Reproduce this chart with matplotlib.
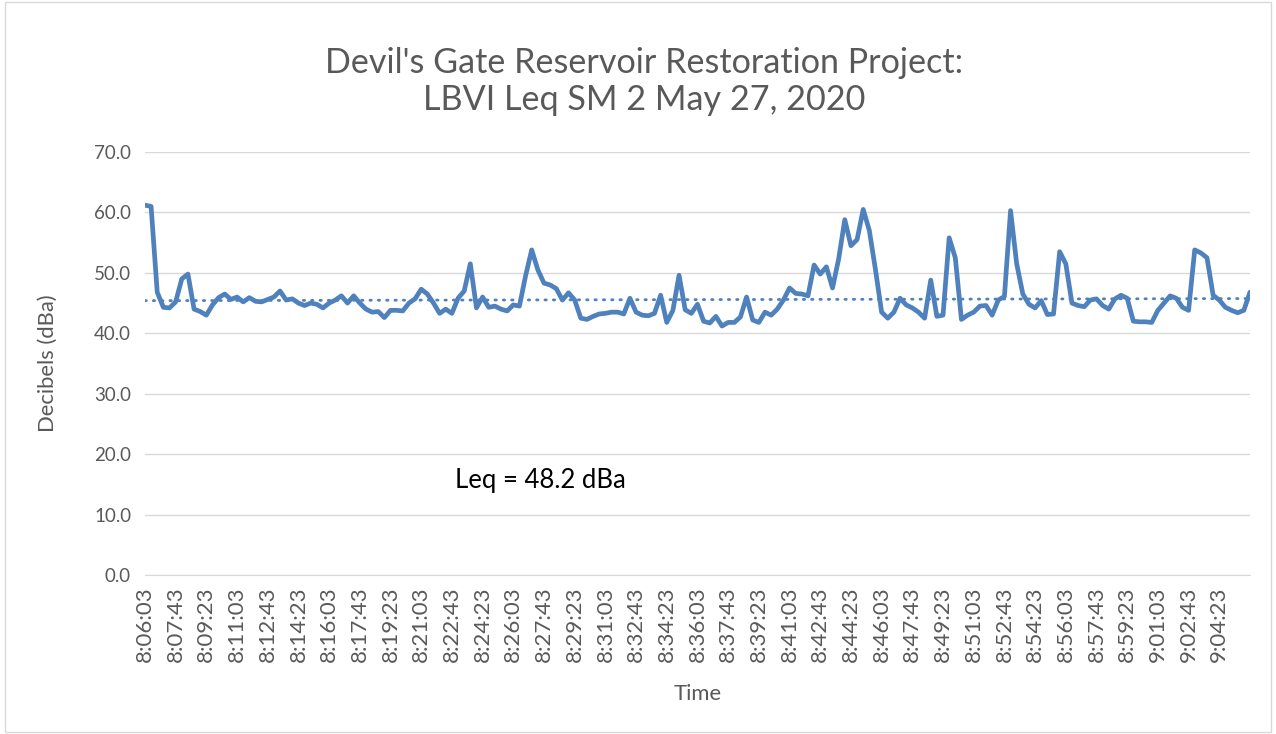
import matplotlib
matplotlib.use("Agg")
import matplotlib.pyplot as plt
import numpy as np
from datetime import datetime, timedelta

# Leq readings every 20 s, 8:06:03 -> 9:06:03
leq_db = [
    61.2, 61.0, 46.8, 44.3, 44.2, 45.2, 49.0, 49.8, 44.0, 43.6,
    43.0, 44.7, 45.9, 46.5, 45.6, 46.0, 45.2, 45.9, 45.3, 45.2,
    45.6, 46.0, 47.0, 45.5, 45.7, 45.0, 44.6, 45.0, 44.8, 44.2,
    45.0, 45.5, 46.2, 45.0, 46.2, 45.0, 44.0, 43.5, 43.6, 42.6,
    43.8, 43.8, 43.7, 45.0, 45.7, 47.3, 46.5, 45.0, 43.3, 44.0,
    43.3, 45.8, 47.0, 51.5, 44.2, 46.0, 44.3, 44.5, 44.0, 43.7,
    44.7, 44.5, 49.5, 53.8, 50.5, 48.3, 48.0, 47.4, 45.5, 46.7,
    45.5, 42.5, 42.3, 42.8, 43.2, 43.3, 43.5, 43.5, 43.2, 45.8,
    43.5, 43.0, 42.9, 43.3, 46.3, 41.8, 43.8, 49.6, 43.9, 43.3,
    44.8, 42.0, 41.7, 42.8, 41.2, 41.8, 41.8, 42.7, 46.0, 42.2,
    41.8, 43.5, 43.0, 44.0, 45.5, 47.5, 46.6, 46.5, 46.2, 51.3,
    49.8, 51.0, 47.5, 52.3, 58.8, 54.5, 55.5, 60.5, 57.0, 50.5,
    43.5, 42.5, 43.5, 45.8, 44.7, 44.2, 43.5, 42.5, 48.8, 42.8,
    43.0, 55.8, 52.5, 42.3, 43.0, 43.5, 44.5, 44.6, 43.0, 45.5,
    46.1, 60.3, 51.5, 46.5, 44.8, 44.2, 45.4, 43.1, 43.2, 53.5,
    51.5, 45.0, 44.6, 44.4, 45.5, 45.7, 44.6, 44.0, 45.7, 46.3,
    45.8, 42.0, 41.9, 41.9, 41.8, 43.8, 45.0, 46.2, 45.8, 44.3,
    43.8, 53.8, 53.3, 52.5, 46.3, 45.5, 44.3, 43.8, 43.4, 43.8,
    46.8,
]
start_time = datetime(2020, 5, 27, 8, 6, 3)
step_s = 20
label_every = 5
trend_ends = [45.4, 45.75]
leq_total = 48.2

n = len(leq_db)
x = np.arange(n)
times = [(start_time + timedelta(seconds=step_s * i)).strftime("%-H:%M:%S") for i in range(n)]

plt.rcParams['font.family'] = ['Lato', 'DejaVu Sans']
grey = '#595959'
blue = '#4F81BD'

fig = plt.figure(figsize=(12.76, 7.34), dpi=100)
ax = fig.add_axes([0.1136, 0.2166, 0.9796 - 0.1136, 0.7929 - 0.2166])

ax.plot(x, leq_db, color=blue, linewidth=3.4, solid_joinstyle='round',
        solid_capstyle='round', zorder=3)
ax.plot([x[0], x[-1]], trend_ends, color=blue, linewidth=2.0, linestyle=(0, (0.5, 2.5)),
        dash_capstyle='round', zorder=2)

ax.set_xlim(0, n - 1)
ax.set_ylim(0, 70)
ax.set_yticks(np.arange(0, 71, 10))
ax.set_yticklabels([f'{v:.1f}' for v in np.arange(0, 71, 10)], fontsize=13.5, color=grey)
ticks = list(range(0, n - 1, label_every))
ax.set_xticks(ticks)
ax.set_xticklabels([times[i] for i in ticks], rotation=90, fontsize=16, color=grey)
ax.tick_params(axis='y', length=0, pad=10)
ax.tick_params(axis='x', length=0, pad=8)

ax.grid(True, axis='y', color='#D9D9D9', linewidth=1.0)
ax.set_axisbelow(True)
for s in ['top', 'right', 'left']:
    ax.spines[s].set_visible(False)
ax.spines['bottom'].set_color('#D9D9D9')

ax.set_ylabel('Decibels (dBa)', fontsize=15.8, color=grey, labelpad=26)
ax.set_xlabel('Time', fontsize=15.8, color=grey, labelpad=16)

fig.text(0.505, 0.889, "Devil's Gate Reservoir Restoration Project:\nLBVI Leq SM 2 May 27, 2020",
         ha='center', va='center', fontsize=24.6, color=grey, linespacing=1.22)

ax.text(50.5, 15.7, f'Leq = {leq_total} dBa', ha='left', va='center', fontsize=18.5, color='black')

# chart border
fig.patches.append(plt.Rectangle((0.004, 0.003), 0.992, 0.994, transform=fig.transFigure,
                                 fill=False, edgecolor='#D9D9D9', linewidth=1.0))

fig.savefig('out.png', dpi=100)
